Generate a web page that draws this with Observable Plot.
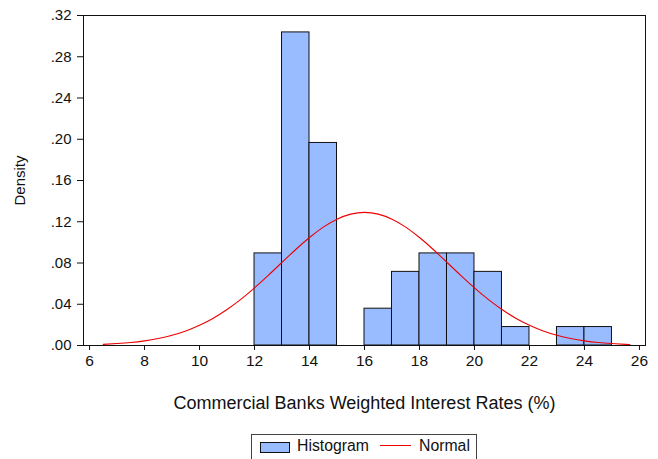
<!DOCTYPE html>
<html>
<head>
<meta charset="utf-8">
<script src="https://cdn.jsdelivr.net/npm/d3@7"></script>
<script src="https://cdn.jsdelivr.net/npm/@observablehq/plot@0.6"></script>
<style>
  body { margin: 0; background: #fff; font-family: "Liberation Sans", Arial, sans-serif; }
  #wrap { position: relative; width: 658px; height: 459px; overflow: hidden; }
  #legend { position: absolute; left: 251px; top: 434px; width: 226px; height: 27px;
            border: 1px solid #444; box-sizing: border-box; font-size: 15.8px; color: #111; }
  .sw { position: absolute; left: 8px; top: 7px; width: 28px; height: 9px; background: #99bbff; border: 1px solid #111; }
  .ln { position: absolute; left: 128px; top: 10px; width: 31px; height: 1px; background: #ee0000; }
  .t1 { position: absolute; left: 45px; top: 2px; }
  .t2 { position: absolute; left: 167px; top: 2px; }
</style>
</head>
<body>
<div id="wrap"></div>
<script>
// Histogram bins (interest rate %, lower and upper edges) and densities
const binLo =   [12, 13, 14, 16, 17, 18, 19, 20, 21, 23, 24];
const binHi =   [13, 14, 15, 17, 18, 19, 20, 21, 22, 24, 25];
const density = [0.0893, 0.3036, 0.1964, 0.0357, 0.0714, 0.0893, 0.0893, 0.0714, 0.0179, 0.0179, 0.0179];

// Fitted normal curve
const curveX = [6.5, 7, 7.5, 8, 8.5, 9, 9.5, 10, 10.5, 11, 11.5, 12, 12.5, 13, 13.5, 14, 14.5, 15, 15.5,
                16, 16.5, 17, 17.5, 18, 18.5, 19, 19.5, 20, 20.5, 21, 21.5, 22, 22.5, 23, 23.5, 24, 24.5, 25, 25.5, 25.65];
const curveY = [0.0011, 0.0019, 0.0029, 0.0045, 0.0068, 0.0099, 0.0141, 0.0196, 0.0265, 0.0349, 0.0447, 0.0559, 0.0680, 0.0806, 0.0931, 0.1047, 0.1148, 0.1225, 0.1274,
                0.1291, 0.1274, 0.1225, 0.1148, 0.1047, 0.0931, 0.0806, 0.0680, 0.0559, 0.0447, 0.0349, 0.0265, 0.0196, 0.0141, 0.0099, 0.0068, 0.0045, 0.0029, 0.0019, 0.0011, 0.0010];

const xTicks = [6, 8, 10, 12, 14, 16, 18, 20, 22, 24, 26];
const yTicks = [0, 0.04, 0.08, 0.12, 0.16, 0.20, 0.24, 0.28, 0.32];
const xLabel = "Commercial Banks Weighted Interest Rates (%)";
const yLabel = "Density";

const bars = binLo.map((lo, i) => ({lo, hi: binHi[i], d: density[i]}));
const curve = curveX.map((x, i) => ({x, y: curveY[i]}));

const fmtY = v => d3.format(".2f")(v).replace(/^0/, "");

const chart = Plot.plot({
  width: 658,
  height: 432,
  marginLeft: 83,
  marginRight: 13,
  marginTop: 15,
  marginBottom: 87,
  style: {fontFamily: '"Liberation Sans", Arial, sans-serif', fontSize: "15px", color: "#111", background: "#fff", overflow: "visible"},
  x: {domain: [5.78, 26.22]},
  y: {domain: [0, 0.32]},
  marks: [
    Plot.rectY(bars, {x1: "lo", x2: "hi", y: "d", fill: "#99bbff", stroke: "#111", strokeWidth: 1, inset: 0}),
    Plot.line(curve, {x: "x", y: "y", stroke: "#ee0000", strokeWidth: 1.1, curve: "natural"}),
    Plot.frame({stroke: "#111", strokeWidth: 1}),
    Plot.axisX({ticks: xTicks, tickSize: 5, tickPadding: 4, tickFormat: d => String(d), label: null, fontSize: 15.5}),
    Plot.axisY({ticks: yTicks, tickSize: 6, tickPadding: 6, tickFormat: fmtY, label: null, fontSize: 15}),
    Plot.text([xLabel], {text: d => d, frameAnchor: "bottom", dy: 63, fontSize: 18, fill: "#111"}),
    Plot.text([yLabel], {text: d => d, frameAnchor: "left", dx: -63, rotate: -90, textAnchor: "middle", lineAnchor: "middle", fontSize: 15, fill: "#111"})
  ]
});

const wrap = document.getElementById("wrap");
wrap.appendChild(chart);

const legend = document.createElement("div");
legend.id = "legend";
legend.innerHTML = '<div class="sw"></div><span class="t1">Histogram</span><div class="ln"></div><span class="t2">Normal</span>';
wrap.appendChild(legend);
</script>
</body>
</html>
